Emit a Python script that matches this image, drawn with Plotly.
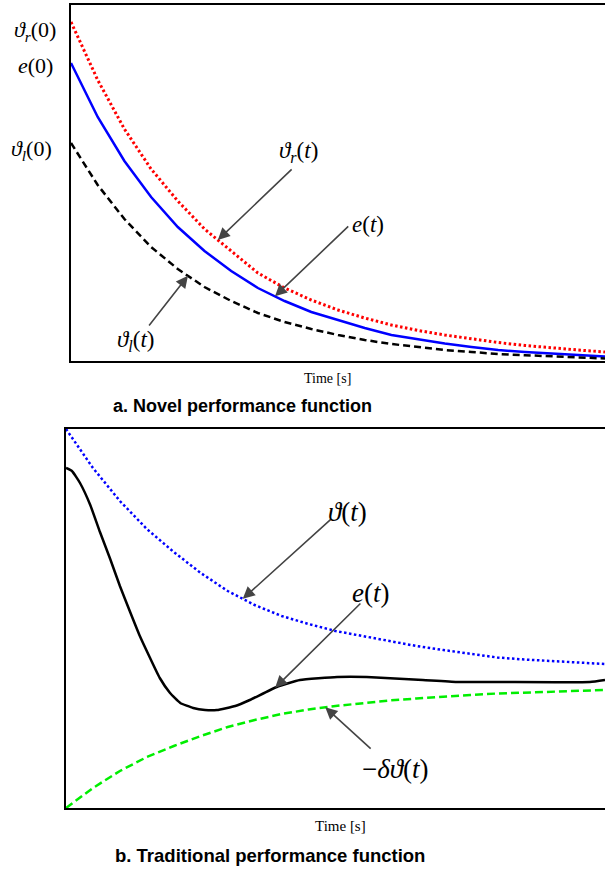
import numpy as np
import plotly.graph_objects as go

# ---------------- data ----------------
# panel a (novel performance function)
t_a = [0, 0.5, 1, 1.5, 2, 2.5, 3, 3.5, 4, 4.5, 5, 5.5, 6, 6.5, 7, 7.5, 8, 8.5, 9, 9.5, 10]
theta_r = [339, 281, 232, 192, 160, 132, 110, 88, 73, 61, 51, 43, 36, 30.5, 26, 22, 18.5, 15.5, 13, 11, 9]
e_a = [298, 244, 200, 164, 134, 110, 90, 73, 60, 49, 41, 33, 26, 21.5, 17.5, 14, 11, 9, 7.5, 6, 4.5]
theta_l = [218, 176, 142, 114, 92, 74, 60, 48, 39, 32, 26, 21, 17, 14, 11, 9, 7, 5.8, 4.8, 3.5, 2.5]

# panel b (traditional performance function)
t_b = [0, 0.5, 1, 1.5, 2, 2.5, 3, 3.5, 4, 4.5, 5, 5.5, 6, 6.5, 7, 7.5, 8, 8.5, 9, 9.5, 10]
theta_b = [379, 340, 307, 279, 256, 235, 217, 203, 192, 184, 177, 172, 167, 162, 158, 154, 150.5, 148.5, 147, 145.5, 144]
neg_dtheta = [0, 20, 37, 51, 62, 72, 81, 88, 94, 98.5, 102, 105, 107.5, 109.5, 111.5, 113, 114.5, 115.5, 116.5, 117.5, 118]
t_e_b = [0, 0.11, 0.26, 0.45, 0.63, 0.82, 1.00, 1.19, 1.37, 1.56, 1.74, 1.93, 2.12, 2.36, 2.58,
         2.80, 3.14, 3.41, 3.91, 4.34, 5.03, 5.58, 6.62, 7.25, 8.05, 9.72, 10]
e_b = [340, 337, 325, 303, 276, 249, 222, 196, 172, 150, 130, 115, 105, 100, 98,
       98, 102, 108, 121, 128, 131, 131, 128, 126, 126, 126, 128]

W, H = 605, 869
SERIF = "Liberation Serif, Times New Roman, DejaVu Serif, serif"
SANS = "Liberation Sans, Arial, Helvetica, sans-serif"


def px(x, y):
    return x / W, 1 - y / H


fig = go.Figure()

# panel a traces
fig.add_trace(go.Scatter(x=t_a, y=theta_r, mode="lines", xaxis="x", yaxis="y",
                         line=dict(color="#ff0000", width=3, dash="2.5px,2.5px")))
fig.add_trace(go.Scatter(x=t_a, y=e_a, mode="lines", xaxis="x", yaxis="y",
                         line=dict(color="#0000ff", width=2.5)))
fig.add_trace(go.Scatter(x=t_a, y=theta_l, mode="lines", xaxis="x", yaxis="y",
                         line=dict(color="#000000", width=2.5, dash="7px,4px")))

# panel b traces
fig.add_trace(go.Scatter(x=t_b, y=theta_b, mode="lines", xaxis="x2", yaxis="y2",
                         line=dict(color="#0000ff", width=2.5, dash="2.5px,2.5px")))
fig.add_trace(go.Scatter(x=t_e_b, y=e_b, mode="lines", xaxis="x2", yaxis="y2",
                         line=dict(color="#000000", width=2.5, shape="spline", smoothing=0.4)))
fig.add_trace(go.Scatter(x=t_b, y=neg_dtheta, mode="lines", xaxis="x2", yaxis="y2",
                         line=dict(color="#00ee00", width=2.5, dash="8px,4px")))

ann = []


def arrow(xref, yref, t_head, xs, ys, t_tail, h_tail):
    ann.append(dict(x=t_head, y=float(np.interp(t_head, xs, ys)), xref=xref, yref=yref,
                    ax=t_tail, ay=h_tail, axref=xref, ayref=yref, text="", showarrow=True,
                    arrowhead=2, arrowsize=1.5, arrowwidth=1.6, arrowcolor="#444444"))


def label(x, y, text, size):
    xx, yy = px(x, y)
    ann.append(dict(x=xx, y=yy, xref="paper", yref="paper", text=text, showarrow=False,
                    xanchor="center", yanchor="middle",
                    font=dict(family=SERIF, size=size, color="black")))


# panel a arrows
arrow("x", "y", 2.75, t_a, theta_r, 4.16, 193)
arrow("x", "y", 3.82, t_a, e_a, 5.22, 136)
arrow("x", "y", 2.19, t_a, theta_l, 1.44, 34)
# panel b arrows
arrow("x2", "y2", 3.28, t_b, theta_b, 4.94, 290)
arrow("x2", "y2", 3.88, t_e_b, e_b, 5.49, 206)
arrow("x2", "y2", 4.81, t_b, neg_dtheta, 5.68, 58)

# math labels panel a
label(35, 31, "<i>ϑ</i><sub><i>r</i></sub>(0)", 22)
label(35, 66, "<i>e</i>(0)", 22)
label(31, 150, "<i>ϑ</i><sub><i>l</i></sub>(0)", 22)
label(298, 152, "<i>ϑ</i><sub><i>r</i></sub>(<i>t</i>)", 23)
label(368, 225, "<i>e</i>(<i>t</i>)", 23)
label(136, 341, "<i>ϑ</i><sub><i>l</i></sub>(<i>t</i>)", 23)
# math labels panel b
label(347, 512, "<i>ϑ</i>(<i>t</i>)", 27)
label(371, 593, "<i>e</i>(<i>t</i>)", 27)
label(395, 769, "−<i>δϑ</i>(<i>t</i>)", 27)

# axis titles
label(327, 378, "Time [s]", 14)
label(340, 826, "Time [s]", 15)

# panel captions
for (x, y, txt, s) in [(242, 406, "<b>a. Novel performance function</b>", 18),
                       (270, 855, "<b>b. Traditional performance function</b>", 18.5)]:
    xx, yy = px(x, y)
    ann.append(dict(x=xx, y=yy, xref="paper", yref="paper", text=txt, showarrow=False,
                    xanchor="center", yanchor="middle",
                    font=dict(family=SANS, size=s, color="black")))

axis_common = dict(showticklabels=False, ticks="", showgrid=False, zeroline=False,
                   showline=True, linecolor="black", linewidth=2)

fig.update_layout(
    width=W, height=H, margin=dict(l=0, r=0, t=0, b=0),
    paper_bgcolor="white", plot_bgcolor="white", showlegend=False,
    xaxis=dict(domain=[71 / W, 1], range=[0, 10], anchor="y", mirror=True, **axis_common),
    yaxis=dict(domain=[1 - 361 / H, 1 - 5 / H], range=[0, 356], anchor="x", **axis_common),
    xaxis2=dict(domain=[66 / W, 1], range=[0, 10], anchor="y2", mirror=True, **axis_common),
    yaxis2=dict(domain=[1 - 808 / H, 1 - 429 / H], range=[0, 379], anchor="x2", **axis_common),
    annotations=ann,
)

fig.write_html("out.html")
